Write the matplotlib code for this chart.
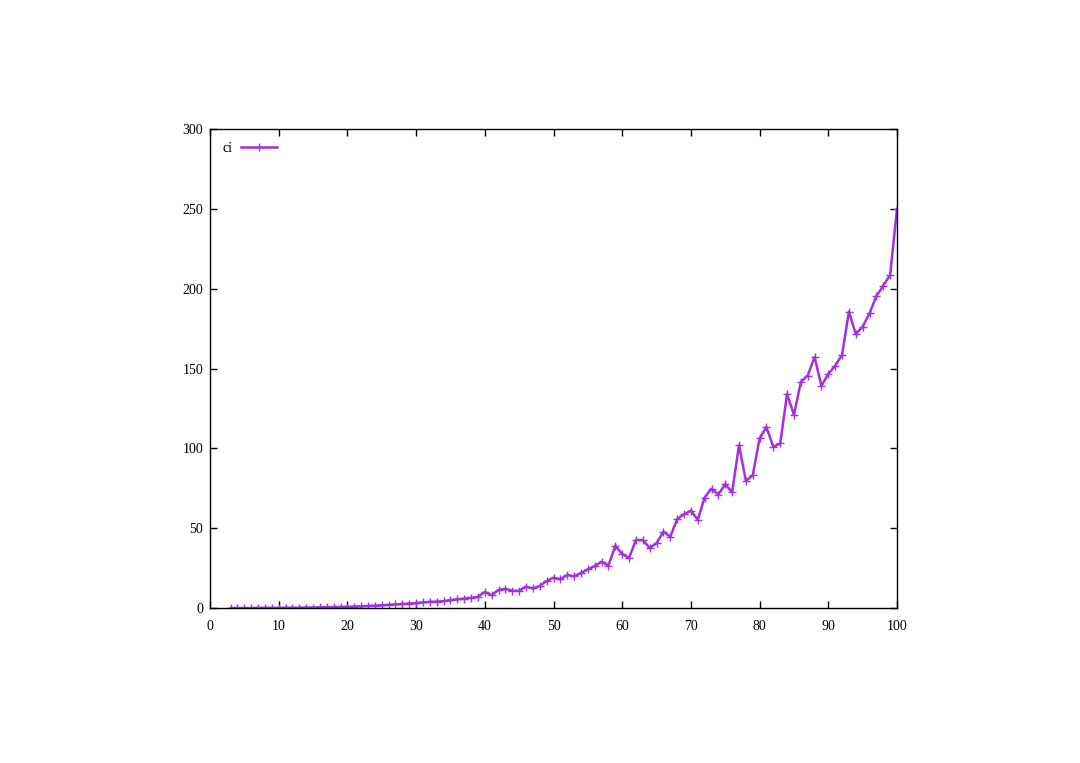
import numpy as np
import matplotlib
matplotlib.use("Agg")
import matplotlib.pyplot as plt

# =========================================================
# DATA
# =========================================================

x_vals = list(range(3, 101))

ci_vals = [
    0.0, 0.0, 0.0, 0.0, 0.1, 0.1, 0.1, 0.1, 0.2, 0.2,        # 3-12
    0.2, 0.3, 0.3, 0.4, 0.5, 0.6, 0.7, 0.8, 0.9, 1.1,        # 13-22
    1.3, 1.5, 1.7, 2.0, 2.2, 2.5, 2.8, 3.1, 3.5, 3.9,        # 23-32
    4.0, 4.3, 4.9, 5.4, 5.9, 6.4, 7.0, 10.0, 8.0, 11.3,      # 33-42
    12.0, 10.8, 10.8, 13.4, 12.3, 13.8, 16.9, 19.0, 18.0, 20.7,  # 43-52
    19.8, 21.9, 24.2, 26.3, 29.0, 26.6, 39.0, 33.8, 31.3, 42.6,  # 53-62
    42.6, 37.6, 40.5, 47.8, 44.6, 55.7, 58.7, 61.0, 55.3, 69.2,  # 63-72
    74.7, 71.0, 77.6, 72.4, 102.0, 79.7, 83.0, 106.2, 113.3, 100.8,  # 73-82
    103.1, 134.0, 121.0, 141.5, 145.6, 157.2, 139.1, 146.6, 151.6, 158.5,  # 83-92
    185.6, 171.6, 176.2, 184.5, 195.4, 201.8, 208.6, 250.0,  # 93-100
]

x_ticks = list(range(0, 101, 10))
y_ticks = list(range(0, 301, 50))

LINE_COLOR = "#a030e0"

# =========================================================
# PLOT
# =========================================================

plt.rcParams["font.family"] = ["Liberation Serif", "DejaVu Serif"]

fig = plt.figure(figsize=(10.8, 7.63), dpi=100)
ax = fig.add_axes([210 / 1080, 1 - 608 / 763, 687 / 1080, 479 / 763])

ax.plot(x_vals, ci_vals, color=LINE_COLOR, linewidth=1.8,
        marker="+", markersize=6, markeredgewidth=1.0, label="ci")

ax.set_xlim(0, 100)
ax.set_ylim(0, 300)
ax.set_xticks(x_ticks)
ax.set_yticks(y_ticks)

ax.tick_params(direction="in", length=5, width=1, top=True, right=True,
               labelsize=10)
ax.tick_params(axis="x", pad=9)
ax.tick_params(axis="y", pad=5)
for sp in ax.spines.values():
    sp.set_linewidth(1)

leg = ax.legend(loc="upper left", frameon=False, markerfirst=False,
                handlelength=2.6, fontsize=10, borderaxespad=0.5,
                handletextpad=0.6, bbox_to_anchor=(0.0, 1.0))

fig.savefig("out.png", dpi=100, facecolor="white")
